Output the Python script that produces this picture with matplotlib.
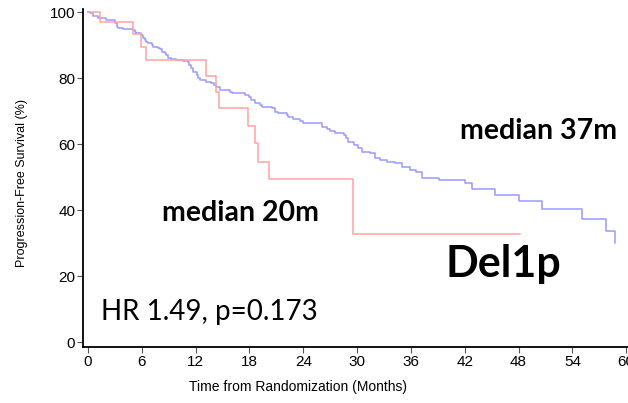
import matplotlib
matplotlib.use("Agg")
import matplotlib.pyplot as plt

# Kaplan-Meier step data: event times (months) and survival (%) after each step
blue_t = [0, 0.2, 0.56, 1.1, 2.0, 3.0, 3.2, 3.3, 3.9, 5.0, 5.2, 5.4, 5.9, 6.1, 6.3,
          6.5, 6.7, 7.1, 7.2, 7.8, 8.0, 8.2, 8.6, 8.7, 8.9, 9.3, 9.8, 10.6, 11.1,
          11.3, 11.5, 11.7, 12.1, 12.3, 12.5, 13.2, 13.7, 14.1, 14.3, 14.7, 15.8,
          16.0, 17.5, 17.9, 18.2, 18.6, 19.2, 19.4, 20.5, 20.8, 21.2, 22.2, 22.3,
          22.9, 23.6, 24.0, 26.1, 26.6, 27.0, 27.5, 28.5, 28.8, 29.0, 29.6, 30.1,
          30.5, 31.4, 32.0, 32.6, 33.3, 34.2, 35.0, 35.9, 36.6, 37.2, 39.1, 42.0,
          42.8, 45.4, 48.0, 50.6, 55.1, 57.7, 58.7]
blue_s = [100, 99.6, 98.8, 98.3, 97.6, 96.6, 95.6, 95.1, 94.8, 94.5, 94.0, 93.5, 93.0,
          92.0, 91.5, 91.0, 90.5, 90.0, 89.5, 89.2, 88.8, 88.0, 87.5, 87.0, 86.2,
          85.8, 85.5, 85.2, 84.8, 84.0, 82.9, 81.9, 80.9, 79.9, 79.4, 78.9, 78.4,
          77.9, 77.4, 76.4, 75.9, 75.4, 74.8, 74.1, 73.3, 72.3, 71.8, 71.1, 70.8,
          69.8, 69.3, 68.8, 68.1, 67.5, 67.0, 66.3, 65.2, 64.4, 63.9, 63.2, 62.7,
          61.7, 60.7, 59.7, 58.7, 57.7, 57.2, 55.7, 55.2, 54.6, 54.1, 53.1, 52.1,
          51.6, 49.6, 49.1, 48.1, 46.4, 44.5, 42.7, 40.3, 37.2, 33.6, 30.1]

red_t = [0, 1.3, 5.05, 5.95, 6.5, 13.1, 14.3, 14.6, 17.8, 18.6, 19.0, 20.2, 29.5, 48.2]
red_s = [100, 96.9, 93.2, 89.3, 85.4, 80.5, 75.9, 71.0, 65.6, 60.2, 54.6, 49.4, 32.7, 32.7]

x_ticks = [0, 6, 12, 18, 24, 30, 36, 42, 48, 54, 60]
y_ticks = [0, 20, 40, 60, 80, 100]

W, H = 628, 403
fig = plt.figure(figsize=(W / 100, H / 100), dpi=100)
ax = fig.add_axes([83 / W, (H - 347) / H, (W - 83) / W, (347 - 8.7) / H])

ax.step(blue_t, blue_s, where="post", color="#9a9aff", lw=1.1)
ax.step(red_t, red_s, where="post", color="#ffa3a3", lw=1.1)

ax.set_xlim(-0.56, 60.2)
ax.set_ylim(-1.5, 101)
ax.set_xticks(x_ticks)
ax.set_yticks(y_ticks)
ax.set_xticklabels([str(v) for v in x_ticks], fontsize=11, family="Liberation Sans")
ax.set_yticklabels([str(v) for v in y_ticks], fontsize=11, family="Liberation Sans")
ax.tick_params(axis="both", length=4, width=0.8, color="#555555", pad=1.5)

for side in ("top", "right"):
    ax.spines[side].set_visible(False)
for side in ("left", "bottom"):
    ax.spines[side].set_linewidth(1.3)

ax.set_xlabel("Time from Randomization (Months)", fontsize=10, family="Liberation Sans")
ax.xaxis.set_label_coords(0.394, -0.098)
ax.set_ylabel("Progression-Free Survival (%)", fontsize=9, family="Liberation Sans")
ax.yaxis.set_label_coords(-0.101, 0.485)

ax.text(41.5, 64.0, "median 37m", fontsize=20.5, fontweight="bold", family="Lato", va="center", ha="left")
ax.text(8.3, 39.0, "median 20m", fontsize=20.5, fontweight="bold", family="Lato", va="center", ha="left")
ax.text(39.8, 23.5, "Del1p", fontsize=31, fontweight="bold", family="Lato", va="center", ha="left")
ax.text(1.4, 9.0, "HR 1.49, p=0.173", fontsize=20, family="Lato", va="center", ha="left")

fig.savefig("out.png", dpi=100)
